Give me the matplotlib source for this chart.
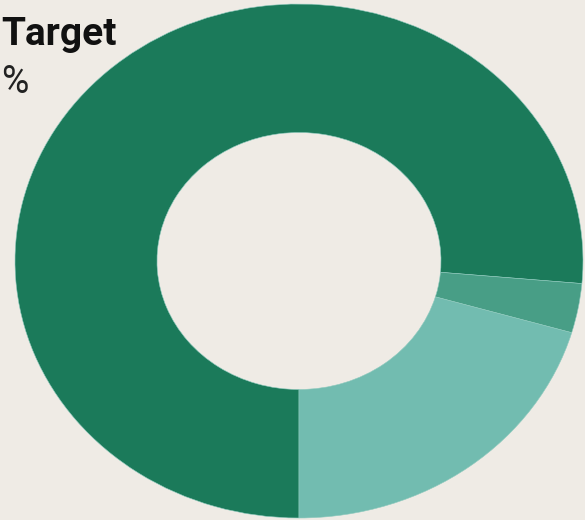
import matplotlib
matplotlib.use("Agg")
import matplotlib.pyplot as plt

# Donut shares, read clockwise from the bottom
labels = ["Dark", "Medium", "Light"]
shares = [76.4, 3.1, 20.5]
colors = ["#1b7a5a", "#489e86", "#72bcb0"]

title_text = "Target"
subtitle_text = "%"

BG = "#efebe5"

plt.rcParams["font.family"] = ["Roboto", "DejaVu Sans"]

fig = plt.figure(figsize=(5.85, 5.2), dpi=100, facecolor=BG)
# pie fills a slightly stretched box, like the reference
ax = fig.add_axes([15 / 585, 2 / 520, 568 / 585, 514 / 520])
ax.set_facecolor(BG)

ax.pie(shares, colors=colors, startangle=-90, counterclock=False,
       radius=1.0, wedgeprops={"width": 0.5, "edgecolor": "#8fcabe", "linewidth": 0.4})
ax.set_aspect("auto")
ax.set_xlim(-1, 1)
ax.set_ylim(-1, 1)
ax.axis("off")

fig.text(1 / 585, 1 - 45 / 520, title_text, fontsize=28, fontweight="bold",
         color="#111111", ha="left", va="baseline")
fig.text(1 / 585, 1 - 93 / 520, subtitle_text, fontsize=27,
         color="#222222", ha="left", va="baseline")

fig.savefig("out.png", dpi=100, facecolor=BG)
